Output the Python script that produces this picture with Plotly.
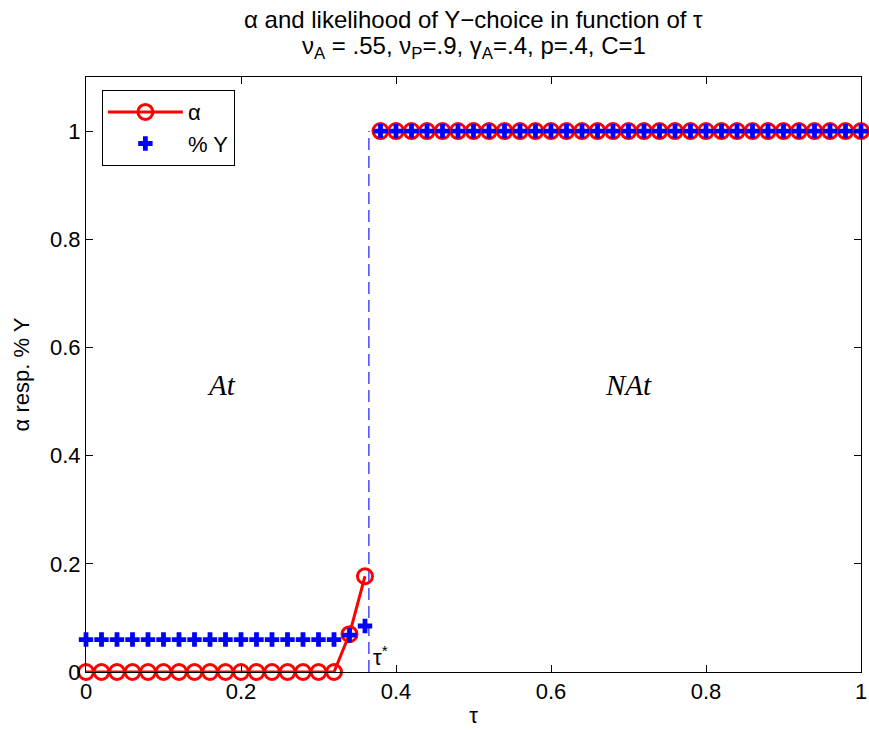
import plotly.graph_objects as go

tau = [round(i * 0.02, 2) for i in range(51)]
alpha = [0.0] * 17 + [0.07, 0.177] + [1.0] * 32
pct_y = [0.06] * 17 + [0.068, 0.085] + [1.0] * 32
tau_star = 0.365
tick_vals = [0, 0.2, 0.4, 0.6, 0.8, 1]
tick_text = ["0", "0.2", "0.4", "0.6", "0.8", "1"]
title_line1 = "α and likelihood of Y−choice in function of τ"
title_line2 = "ν<sub>A</sub> = .55, ν<sub>P</sub>=.9, γ<sub>A</sub>=.4, p=.4, C=1"

FONT = "Liberation Sans, Arial, Helvetica, sans-serif"
SERIF = "Liberation Serif, DejaVu Serif, serif"

# regime split (no line across the jump at tau*)
split = next(i for i, t in enumerate(tau) if t > tau_star)

fig = go.Figure()
fig.add_trace(go.Scatter(
    x=[tau_star, tau_star], y=[0, 1], mode="lines",
    line=dict(color="#3c3cff", width=1.4, dash="12px,6px"),
    showlegend=False, hoverinfo="skip"))
alpha_style = dict(line=dict(color="red", width=3), cliponaxis=False,
                   marker=dict(symbol="circle-open", size=15, color="red", line=dict(width=3)))
fig.add_trace(go.Scatter(x=tau[:split], y=alpha[:split], mode="lines+markers",
                         name="α", legendgroup="a", **alpha_style))
fig.add_trace(go.Scatter(x=tau[split:], y=alpha[split:], mode="lines+markers",
                         name="α", legendgroup="a", showlegend=False, **alpha_style))
fig.add_trace(go.Scatter(
    x=tau, y=pct_y, mode="markers", name="% Y", cliponaxis=False,
    marker=dict(symbol="cross", size=12, color="blue", line=dict(width=0))))

fig.add_annotation(x=0.175, y=0.53, text="<i>At</i>", showarrow=False,
                   font=dict(family=SERIF, size=29, color="black"))
fig.add_annotation(x=0.70, y=0.53, text="<i>NAt</i>", showarrow=False,
                   font=dict(family=SERIF, size=29, color="black"))
fig.add_annotation(x=tau_star, y=0.0, text="τ<sup>*</sup>", showarrow=False,
                   xanchor="left", yanchor="bottom", xshift=2, yshift=0,
                   font=dict(family=FONT, size=22, color="black"))
fig.add_annotation(xref="paper", yref="paper", x=0.5, y=1.1227, xanchor="center", yanchor="top",
                   showarrow=False, text=title_line1,
                   font=dict(family=FONT, size=24, color="black"))
fig.add_annotation(xref="paper", yref="paper", x=0.5, y=1.079, xanchor="center", yanchor="top",
                   showarrow=False, text=title_line2,
                   font=dict(family=FONT, size=24, color="black"))

fig.update_layout(
    width=869, height=731,
    margin=dict(l=86, r=2, t=77, b=59),
    paper_bgcolor="white", plot_bgcolor="white",
    font=dict(family=FONT, size=22, color="black"),
    legend=dict(x=0.0205, y=0.978, xanchor="left", yanchor="top",
                bordercolor="black", borderwidth=1, bgcolor="white",
                font=dict(family=FONT, size=22), itemwidth=75,
                tracegroupgap=0),
    showlegend=True,
)
fig.update_xaxes(range=[0, 1], tickvals=tick_vals, ticktext=tick_text,
                 ticks="inside", ticklen=7, tickcolor="black", ticklabeloverflow="allow",
                 showline=True, linecolor="black", linewidth=1, mirror="ticks",
                 showgrid=False, zeroline=False,
                 title=dict(text="τ", standoff=4, font=dict(size=22)))
fig.update_yaxes(range=[0, 1.1], tickvals=tick_vals, ticktext=tick_text,
                 ticks="inside", ticklen=7, tickcolor="black",
                 showline=True, linecolor="black", linewidth=1, mirror="ticks",
                 showgrid=False, zeroline=False,
                 title=dict(text="α resp. % Y", standoff=14, font=dict(size=22)))

fig.write_html("out.html", config={"displayModeBar": False},
               post_script="document.body.style.margin='0';document.body.style.overflow='hidden';")
